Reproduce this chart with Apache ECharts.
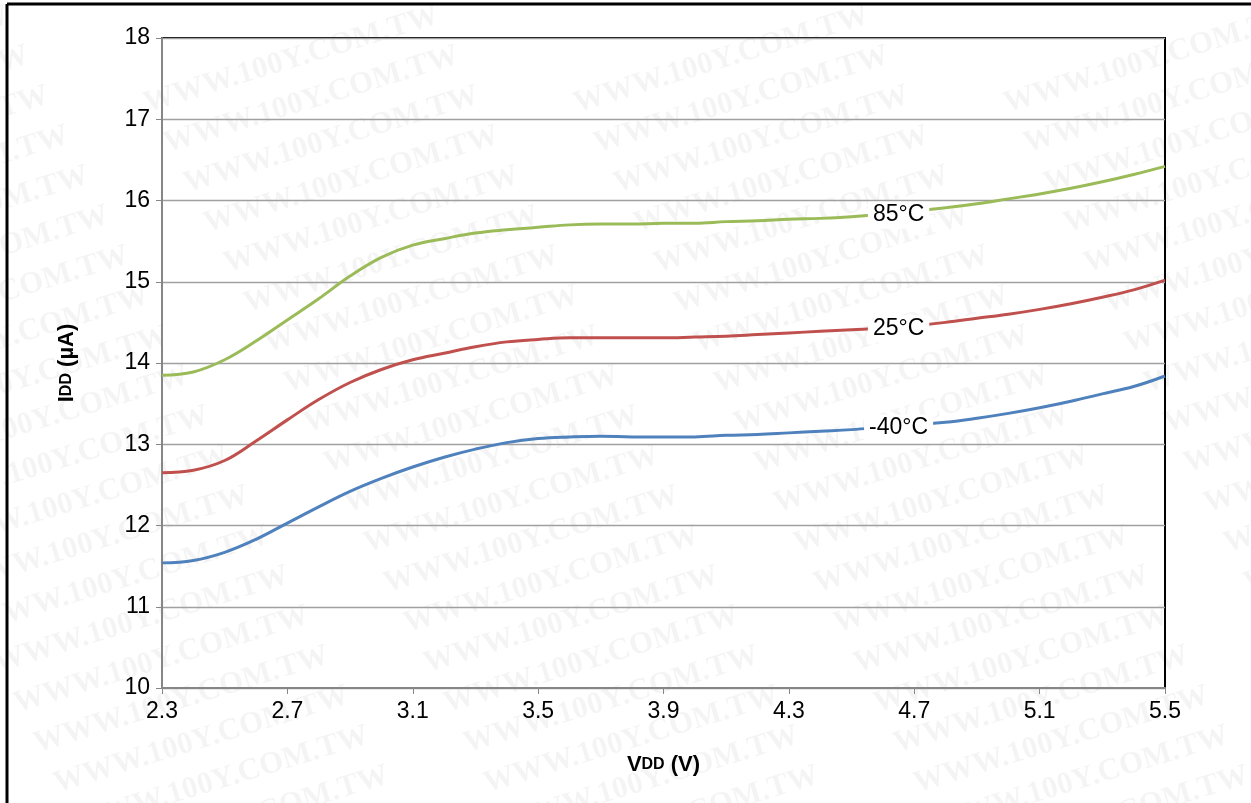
<!DOCTYPE html>
<html><head><meta charset="utf-8">
<script src="https://cdn.jsdelivr.net/npm/echarts@6/dist/echarts.min.js"></script>
<style>html,body{margin:0;padding:0;background:#fff}#c{width:1251px;height:803px}</style>
</head><body><div id="c"></div>
<script>
// ---- data ----
const vdd = [2.3, 2.4, 2.5, 2.6, 2.7, 2.8, 2.9, 3.0, 3.1, 3.2, 3.3, 3.4, 3.5, 3.6, 3.7, 3.8, 3.9, 4.0, 4.1, 4.2, 4.3, 4.4, 4.5, 4.6, 4.7, 4.8, 4.9, 5.0, 5.1, 5.2, 5.3, 5.4, 5.5];
const idd85 = [13.85, 13.89, 14.04, 14.27, 14.53, 14.79, 15.07, 15.30, 15.45, 15.53, 15.60, 15.64, 15.67, 15.70, 15.71, 15.71, 15.72, 15.72, 15.74, 15.75, 15.77, 15.78, 15.80, 15.83, 15.87, 15.91, 15.96, 16.02, 16.08, 16.15, 16.23, 16.32, 16.42];
const idd25 = [12.65, 12.68, 12.80, 13.04, 13.30, 13.55, 13.76, 13.92, 14.04, 14.12, 14.20, 14.26, 14.29, 14.31, 14.31, 14.31, 14.31, 14.32, 14.33, 14.35, 14.37, 14.39, 14.41, 14.43, 14.46, 14.50, 14.55, 14.60, 14.66, 14.73, 14.81, 14.90, 15.02];
const iddM40 = [11.54, 11.57, 11.67, 11.83, 12.03, 12.23, 12.42, 12.58, 12.72, 12.84, 12.94, 13.02, 13.07, 13.09, 13.10, 13.09, 13.09, 13.09, 13.11, 13.12, 13.14, 13.16, 13.18, 13.21, 13.24, 13.27, 13.32, 13.38, 13.45, 13.53, 13.62, 13.71, 13.84];
const seriesNames = ['85°C', '25°C', '-40°C'];
const labelV = [4.65, 4.65, 4.65];
const labelI = [15.82, 14.42, 13.2];
const xTicks = ['2.3', '2.7', '3.1', '3.5', '3.9', '4.3', '4.7', '5.1', '5.5'];
const X0 = 2.3; // axis origin offset

const colors = ['#9BBB59', '#C0504D', '#4F81BD'];
const sets = [idd85, idd25, iddM40];
const FONT = '"Liberation Sans", Arial, sans-serif';

const chart = echarts.init(document.getElementById('c'));

// watermark tiles
const wm = [];
for (let col = -3; col < 4; col++) {
  for (let row = 0; row < 22; row++) {
    const x = col * 430 + row * 20 + 140;
    const y = row * 40 + 90;
    wm.push({
      type: 'text', x: x, y: y, rotation: 17 * Math.PI / 180, silent: true, z: -10,
      style: { text: 'WWW.100Y.COM.TW', font: 'bold 31px "Liberation Serif"', fill: 'rgba(0,0,0,0.045)' }
    });
  }
}

const series = sets.map((arr, i) => ({
  name: seriesNames[i],
  type: 'line',
  smooth: 0.4,
  symbol: 'none',
  lineStyle: { color: colors[i], width: 3 },
  data: vdd.map((v, k) => [v - X0, arr[k]]),
  z: 3,
  markPoint: {
    symbol: 'rect', symbolSize: 1, itemStyle: { color: 'rgba(0,0,0,0)' },
    data: [{ coord: [labelV[i] - X0, labelI[i]], value: seriesNames[i] }],
    label: {
      show: true, position: 'inside', formatter: seriesNames[i],
      backgroundColor: '#fff', padding: [3, 5, 1, 5],
      color: '#000', fontSize: 23, fontFamily: FONT
    }
  }
}));

chart.setOption({
  animation: false,
  backgroundColor: '#fff',
  textStyle: { fontFamily: FONT },
  graphic: wm.concat([
    { type: 'line', shape: { x1: 7, y1: 4, x2: 7, y2: 803 }, style: { stroke: '#000', lineWidth: 3 }, z: 50 },
    { type: 'line', shape: { x1: 7, y1: 4, x2: 1251, y2: 4 }, style: { stroke: '#000', lineWidth: 3 }, z: 50 }
  ]),
  grid: { left: 162, top: 38, right: 86, bottom: 115, show: true, borderColor: '#000', borderWidth: 2, backgroundColor: 'transparent' },
  xAxis: {
    type: 'value', min: 0, max: 3.2, interval: 0.4,
    axisLine: { lineStyle: { color: '#868686', width: 2 } },
    axisTick: { show: true, length: 6, lineStyle: { color: '#868686', width: 1 } },
    splitLine: { show: false },
    axisLabel: {
      color: '#000', fontSize: 23, margin: 12, fontFamily: FONT,
      formatter: v => xTicks[Math.round(v / 0.4)]
    },
    name: '{b|V}{s|DD}{b| (V)}', nameLocation: 'middle', nameGap: 66,
    nameTextStyle: { rich: { b: { fontSize: 22, fontWeight: 'bold', color: '#000', fontFamily: FONT }, s: { fontSize: 16, fontWeight: 'bold', color: '#000', fontFamily: FONT } } }
  },
  yAxis: {
    type: 'value', min: 10, max: 18, interval: 1,
    axisLine: { show: true, lineStyle: { color: '#868686', width: 2 } },
    axisTick: { show: true, length: 6, lineStyle: { color: '#868686', width: 1 } },
    splitLine: { lineStyle: { color: '#a0a0a0', width: 1.3 } },
    axisLabel: { color: '#000', fontSize: 23, margin: 12, fontFamily: FONT },
    name: '{b|I}{s|DD}{b| (µA)}', nameLocation: 'middle', nameGap: 84, nameRotate: 90,
    nameTextStyle: { rich: { b: { fontSize: 22, fontWeight: 'bold', color: '#000', fontFamily: FONT }, s: { fontSize: 16, fontWeight: 'bold', color: '#000', fontFamily: FONT } } }
  },
  series: series
});
</script>
</body></html>
